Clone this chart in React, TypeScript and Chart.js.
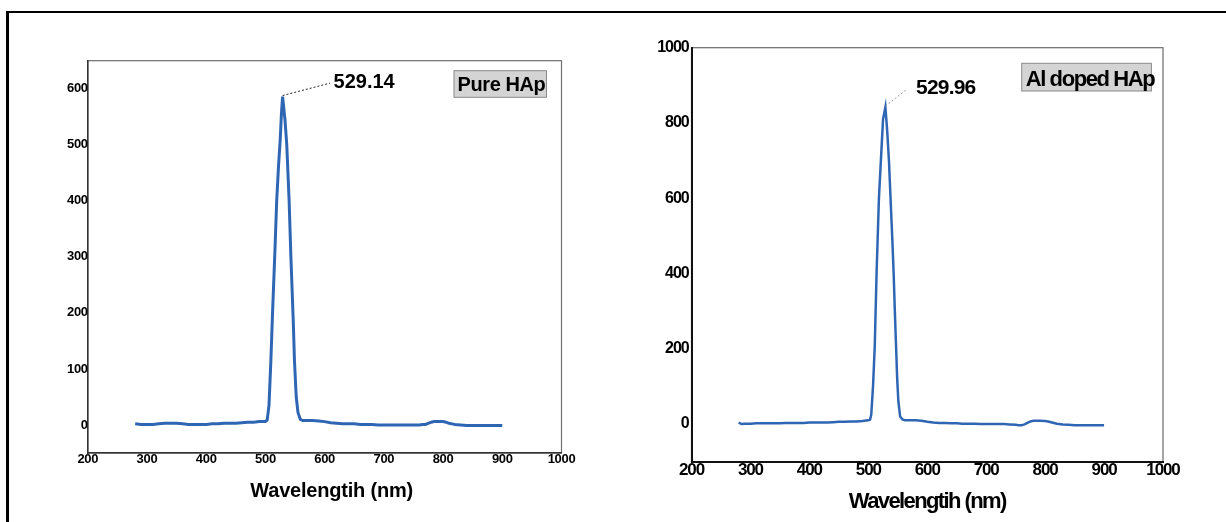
import React, { useEffect, useRef } from "react";
import { Chart, registerables } from "chart.js";

Chart.register(...registerables);

// ---------- data ----------
const xTickValues = [200, 300, 400, 500, 600, 700, 800, 900, 1000];
const pureYTickValues = [0, 100, 200, 300, 400, 500, 600];
const alYTickValues = [0, 200, 400, 600, 800, 1000];

const pureWavelength = [
  280, 290, 300, 310, 320, 330, 340, 350, 360, 370,
  380, 390, 400, 410, 420, 430, 440, 450, 460, 470,
  480, 490, 500, 503, 506, 509, 512, 516, 519, 522,
  525, 527, 529, 531, 533, 536, 540, 543, 547, 549,
  552, 555, 559, 563, 570, 580, 590, 600, 610, 620,
  630, 640, 650, 660, 670, 680, 690, 700, 710, 720,
  730, 740, 750, 760, 765, 770, 775, 780, 785, 790,
  795, 800, 805, 810, 815, 820, 830, 840, 850, 860,
  870, 880, 890, 900,
];
const pureIntensity = [
  2, 1, 1, 1, 2, 3, 3, 3, 2, 1,
  1, 1, 1, 2, 2, 3, 3, 3, 4, 5,
  5, 6, 6, 9, 35, 110, 200, 310, 400, 460,
  510, 555, 586, 565, 545, 500, 400, 300, 185, 115,
  50, 22, 10, 8, 8, 8, 7, 6, 4, 3,
  2, 2, 2, 1, 1, 1, 0, 0, 0, 0,
  0, 0, 0, 0, 1, 1, 3, 5, 6, 6,
  6, 6, 5, 3, 2, 1, 0, -1, -1, -1,
  -1, -1, -1, -1,
];

const alWavelength = [
  280, 285, 290, 300, 310, 320, 330, 340, 350, 360,
  370, 380, 390, 400, 410, 420, 430, 440, 450, 460,
  470, 480, 490, 500, 503, 505, 508, 511, 514, 518,
  521, 525, 529, 532, 535, 538, 541, 543, 545, 547,
  549, 551, 554, 558, 562, 570, 580, 590, 600, 610,
  620, 630, 640, 650, 660, 670, 680, 690, 700, 710,
  720, 730, 740, 750, 755, 760, 765, 770, 775, 780,
  790, 800, 805, 810, 815, 820, 830, 840, 850, 860,
  870, 880, 890, 900,
];
const alIntensity = [
  4, 0, 1, 1, 2, 2, 2, 2, 2, 3,
  3, 3, 3, 4, 4, 4, 4, 5, 6, 6,
  7, 7, 8, 10, 12, 25, 100, 210, 400, 600,
  690, 810, 842, 780, 700, 590, 480, 400, 300, 210,
  120, 60, 20, 12, 10, 10, 10, 9, 6, 4,
  3, 3, 2, 2, 1, 1, 1, 0, 0, 0,
  0, 0, -1, -2, -3, -3, -1, 3, 7, 9,
  9, 8, 7, 5, 3, 1, -1, -2, -3, -3,
  -3, -3, -3, -3,
];

const xTitle = "Wavelengtih (nm)";
const purePeakLabel = "529.14";
const alPeakLabel = "529.96";
const pureSample = "Pure HAp";
const alSample = "Al doped HAp";

// ---------- chart configs (layout & style) ----------
const FONT = "'Liberation Sans', Arial, Helvetica, sans-serif";

type Cfg = {
  wavelength: number[];
  intensity: number[];
  yMin: number;
  yMax: number;
  yTicks: number[];
  peakLabel: string;
  sample: string;
  labelAt: { x: number; y: number };
  leaderEnd: { x: number; y: number };
  width: number;
  height: number;
  padding: { left: number; top: number; right: number; bottom: number };
  yW: number;
  xH: number;
  lineWidth: number;
  tickFont: number;
  xTickFont: number;
  tickSpacing: string;
  yTickPad: number;
  axisColor: string;
  axisWidth: number;
  frameColor: string;
  leaderColor: string;
  peakFont: number;
  peakSpacing: string;
  box: { right: number; top: number; w: number; h: number; tx: number; ty: number; font: number; spacing: string };
  title: { dx: number; dy: number; font: number; spacing: string };
};

const pureCfg: Cfg = {
  wavelength: pureWavelength,
  intensity: pureIntensity,
  yMin: -50,
  yMax: 650,
  yTicks: pureYTickValues,
  peakLabel: purePeakLabel,
  sample: pureSample,
  labelAt: { x: 615, y: 601 },
  leaderEnd: { x: 609, y: 610 },
  width: 620,
  height: 522,
  padding: { left: 47.8, top: 60.7, right: 58.5, bottom: 0 },
  yW: 40,
  xH: 69,
  lineWidth: 3,
  tickFont: 13,
  xTickFont: 13,
  tickSpacing: "-0.3px",
  yTickPad: 0,
  axisColor: "#333333",
  axisWidth: 1.5,
  frameColor: "#6e6e6e",
  leaderColor: "#222222",
  peakFont: 20,
  peakSpacing: "0px",
  box: { right: 15, top: 10, w: 92.5, h: 26.6, tx: 3.5, ty: 20, font: 20, spacing: "-0.4px" },
  title: { dx: 7, dy: 43.7, font: 20, spacing: "-0.2px" },
};

const alCfg: Cfg = {
  wavelength: alWavelength,
  intensity: alIntensity,
  yMin: -100,
  yMax: 1000,
  yTicks: alYTickValues,
  peakLabel: alPeakLabel,
  sample: alSample,
  labelAt: { x: 581, y: 876 },
  leaderEnd: { x: 565, y: 889 },
  width: 606,
  height: 522,
  padding: { left: 26.5, top: 47.7, right: 63, bottom: 0 },
  yW: 45,
  xH: 60.3,
  lineWidth: 2.5,
  tickFont: 16,
  xTickFont: 17,
  tickSpacing: "-1.1px",
  yTickPad: 3,
  axisColor: "#111111",
  axisWidth: 2,
  frameColor: "#6a6a6a",
  leaderColor: "#9a9a9a",
  peakFont: 21,
  peakSpacing: "-0.8px",
  box: { right: 11.6, top: 15.6, w: 129.7, h: 27.7, tx: 4, ty: 22.7, font: 22, spacing: "-1.4px" },
  title: { dx: 0, dy: 46, font: 22, spacing: "-1.6px" },
};

function makeDecor(cfg: Cfg) {
  return {
    id: "decor",
    beforeDraw(chart: any) {
      const ctx = chart.ctx;
      const ca = chart.chartArea;
      ctx.save();
      ctx.strokeStyle = cfg.frameColor;
      ctx.lineWidth = 1.2;
      ctx.strokeRect(ca.left, ca.top, ca.right - ca.left, ca.bottom - ca.top);
      ctx.restore();
      ctx.letterSpacing = cfg.tickSpacing;
    },
    afterDraw(chart: any) {
      const ctx = chart.ctx;
      const ca = chart.chartArea;
      const xs = chart.scales.x;
      const ys = chart.scales.y;
      let pi = 0;
      cfg.intensity.forEach((v, i) => {
        if (v > cfg.intensity[pi]) pi = i;
      });
      const px = xs.getPixelForValue(cfg.wavelength[pi]);
      const py = ys.getPixelForValue(cfg.intensity[pi]);
      const ex = xs.getPixelForValue(cfg.leaderEnd.x);
      const ey = ys.getPixelForValue(cfg.leaderEnd.y);
      ctx.save();
      ctx.setLineDash([2, 2]);
      ctx.strokeStyle = cfg.leaderColor;
      ctx.lineWidth = 1;
      ctx.beginPath();
      ctx.moveTo(px, py - 1);
      ctx.lineTo(ex, ey);
      ctx.stroke();
      ctx.restore();

      ctx.save();
      ctx.fillStyle = "#000";
      ctx.textAlign = "left";
      ctx.textBaseline = "alphabetic";
      ctx.font = `bold ${cfg.peakFont}px ${FONT}`;
      ctx.letterSpacing = cfg.peakSpacing;
      ctx.fillText(cfg.peakLabel, xs.getPixelForValue(cfg.labelAt.x), ys.getPixelForValue(cfg.labelAt.y));

      const b = cfg.box;
      const bx = ca.right - b.right - b.w;
      const by = ca.top + b.top;
      ctx.fillStyle = "#d4d4d4";
      ctx.fillRect(bx, by, b.w, b.h);
      ctx.strokeStyle = "#8a8a8a";
      ctx.lineWidth = 1;
      ctx.strokeRect(bx, by, b.w, b.h);
      ctx.fillStyle = "#000";
      ctx.font = `bold ${b.font}px ${FONT}`;
      ctx.letterSpacing = b.spacing;
      ctx.fillText(cfg.sample, bx + b.tx, by + b.ty);

      const t = cfg.title;
      ctx.font = `bold ${t.font}px ${FONT}`;
      ctx.letterSpacing = t.spacing;
      ctx.textAlign = "center";
      ctx.fillText(xTitle, (ca.left + ca.right) / 2 + t.dx, ca.bottom + t.dy);
      ctx.restore();
    },
  };
}

function SpectrumChart({ cfg, left }: { cfg: Cfg; left: number }) {
  const ref = useRef<HTMLCanvasElement | null>(null);
  useEffect(() => {
    if (!ref.current) return;
    const points = cfg.wavelength.map((x, i) => ({ x, y: cfg.intensity[i] }));
    const chart = new Chart(ref.current, {
      type: "line",
      data: {
        datasets: [
          {
            data: points,
            borderColor: "#2f66b3",
            borderWidth: cfg.lineWidth,
            pointRadius: 0,
            tension: 0,
            fill: false,
          },
        ],
      },
      options: {
        animation: false,
        responsive: false,
        devicePixelRatio: 1,
        events: [],
        layout: { padding: cfg.padding },
        plugins: { legend: { display: false }, tooltip: { enabled: false } },
        scales: {
          x: {
            type: "linear",
            min: 200,
            max: 1000,
            afterBuildTicks: (s: any) => {
              s.ticks = xTickValues.map((v) => ({ value: v }));
            },
            afterFit: (s: any) => {
              s.height = cfg.xH;
            },
            grid: { display: false, drawTicks: false },
            border: { display: true, color: cfg.axisColor, width: cfg.axisWidth },
            ticks: {
              padding: 0,
              autoSkip: false,
              maxRotation: 0,
              color: "#000",
              font: { family: FONT, size: cfg.xTickFont, weight: "bold", lineHeight: 1 },
              callback: (v: any) => String(v),
            },
          },
          y: {
            type: "linear",
            min: cfg.yMin,
            max: cfg.yMax,
            afterBuildTicks: (s: any) => {
              s.ticks = cfg.yTicks.map((v) => ({ value: v }));
            },
            afterFit: (s: any) => {
              s.width = cfg.yW;
            },
            grid: { display: false, drawTicks: false },
            border: { display: true, color: cfg.axisColor, width: cfg.axisWidth },
            ticks: {
              padding: cfg.yTickPad,
              color: "#000",
              font: { family: FONT, size: cfg.tickFont, weight: "bold", lineHeight: 1 },
              callback: (v: any) => String(v),
            },
          },
        },
      },
      plugins: [makeDecor(cfg)],
    } as any);
    return () => chart.destroy();
  }, [cfg]);
  return (
    <canvas
      ref={ref}
      width={cfg.width}
      height={cfg.height}
      style={{ position: "absolute", left, top: 0, width: cfg.width, height: cfg.height }}
    />
  );
}

export default function App() {
  return (
    <div
      style={{
        position: "fixed",
        left: 0,
        top: 0,
        width: 1226,
        height: 522,
        background: "#fff",
        overflow: "hidden",
      }}
    >
      <div
        style={{
          position: "absolute",
          left: 6,
          top: 11,
          width: 1300,
          height: 700,
          borderTop: "2px solid #000",
          borderLeft: "3px solid #000",
        }}
      />
      <SpectrumChart cfg={pureCfg} left={0} />
      <SpectrumChart cfg={alCfg} left={620} />
    </div>
  );
}
